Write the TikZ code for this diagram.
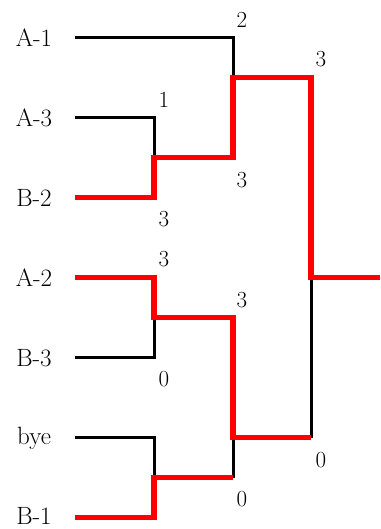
\documentclass[tikz,border=0pt]{standalone}
\begin{document}
\begin{tikzpicture}[x=1pt,y=-1pt,
  lose/.style={draw=black,line width=3pt,line join=miter},
  win/.style={draw=red,line width=5.5pt,line join=miter},
  team/.style={font=\fontsize{25}{29}\selectfont,inner sep=0pt,anchor=center},
  score/.style={font=\fontsize{23}{27}\selectfont,inner sep=0pt,anchor=center}]
\useasboundingbox (0,0) rectangle (380,529);
% team labels
\node[team] (tA1) at (34,38) {A-1};
\node[team] (tA3) at (34,118) {A-3};
\node[team] (tB2) at (34,198) {B-2};
\node[team] (tA2) at (34,278) {A-2};
\node[team] (tB3) at (34,358) {B-3};
\node[team] (tbye) at (34,438) {bye};
\node[team] (tB1) at (34,516) {B-1};
% line starts
\coordinate (sA1) at (75,37.5);
\coordinate (sA3) at (75,117.5);
\coordinate (sB2) at (75,197.5);
\coordinate (sA2) at (75,277.5);
\coordinate (sB3) at (75,357.5);
\coordinate (sbye) at (75,437.5);
\coordinate (sB1) at (75,517.5);
% round 1 corners
\coordinate (cA3) at (154,117.5);
\coordinate (cB2) at (154,197.5);
\coordinate (m1) at (154,157.5);
\coordinate (cA2) at (154,277.5);
\coordinate (cB3) at (154,357.5);
\coordinate (m2) at (154,317.5);
\coordinate (cbye) at (154,437.5);
\coordinate (cB1) at (154,517.5);
\coordinate (m3) at (154,477.5);
% round 2
\coordinate (cA1) at (233,37.5);
\coordinate (r1) at (233,157.5);
\coordinate (w1) at (233,77.5);
\coordinate (r2) at (233,317.5);
\coordinate (r3) at (233,477.5);
\coordinate (w2) at (233,437.5);
% final
\coordinate (f1) at (311,77.5);
\coordinate (f2) at (311,437.5);
\coordinate (wf) at (311,277.5);
\coordinate (out) at (380,277.5);
% losing lines
\draw[lose] (sA1) -- (cA1) -- (w1);
\draw[lose] (sA3) -- (cA3) -- (m1);
\draw[lose] (sB3) -- (cB3) -- (m2);
\draw[lose] (sbye) -- (cbye) -- (m3);
\draw[lose] (w2) -- (r3);
\draw[lose] (f2) -- (wf);
% winning lines
\draw[win] (sB2) -- (cB2) -- (m1) -- (r1) -- (w1) -- (f1) -- (wf) -- (out);
\draw[win] (sA2) -- (cA2) -- (m2) -- (r2) -- (w2) -- (f2);
\draw[win] (sB1) -- (cB1) -- (m3) -- (r3);
% scores
\node[score] (s1) at (164,100) {1};
\node[score] (s2) at (164,219) {3};
\node[score] (s3) at (164,259) {3};
\node[score] (s4) at (164,379) {0};
\node[score] (s5) at (242,20) {2};
\node[score] (s6) at (242,180) {3};
\node[score] (s7) at (242,300) {3};
\node[score] (s8) at (242,499) {0};
\node[score] (s9) at (321,59) {3};
\node[score] (s10) at (321,460) {0};
\end{tikzpicture}
\end{document}
